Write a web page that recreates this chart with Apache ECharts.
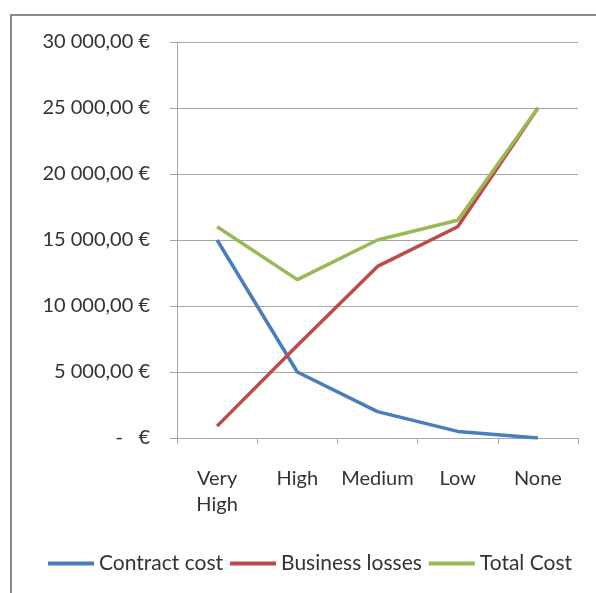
<!DOCTYPE html>
<html>
<head>
<meta charset="utf-8">
<script src="https://cdn.jsdelivr.net/npm/echarts@6/dist/echarts.min.js"></script>
<style>
  html, body { margin: 0; padding: 0; background: #fff; }
  #main { width: 596px; height: 593px; }
</style>
</head>
<body>
<div id="main"></div>
<script>
var categories = ['Very\nHigh', 'High', 'Medium', 'Low', 'None'];
var contractCost = [15000, 5000, 2000, 500, 0];
var businessLosses = [900, 7000, 13000, 16000, 25000];
var totalCost = [16000, 12000, 15000, 16500, 25000];
var seriesNames = ['Contract cost', 'Business losses', 'Total Cost'];

var chart = echarts.init(document.getElementById('main'));

function euro(v) {
    if (v === 0) return '-   €';
    var s = String(Math.round(v)).replace(/\B(?=(\d{3})+(?!\d))/g, ' ');
    return s + ',00 €';
}

var option = {
    animation: false,
    textStyle: { fontFamily: 'Lato' },
    graphic: [{
        type: 'rect',
        shape: { x: 11, y: 15, width: 620, height: 620 },
        style: { fill: 'none', stroke: '#8a8a8a', lineWidth: 2 }
    }],
    legend: {
        bottom: 14,
        left: 43,
        itemWidth: 46,
        itemHeight: 4,
        itemGap: 7,
        icon: 'rect',
        textStyle: { color: '#333', fontSize: 21 },
        data: seriesNames
    },
    grid: {
        left: 177,
        right: 18,
        top: 42,
        bottom: 155
    },
    xAxis: {
        type: 'category',
        data: categories,
        axisLine: { lineStyle: { color: '#a6a6a6', width: 1 } },
        axisTick: { show: true, length: 6, interval: 0, lineStyle: { color: '#a6a6a6' } },
        axisLabel: { color: '#333', fontSize: 20, margin: 28, lineHeight: 26, interval: 0 }
    },
    yAxis: {
        type: 'value',
        min: 0,
        max: 30000,
        interval: 5000,
        axisLine: { show: true, lineStyle: { color: '#a6a6a6' } },
        axisTick: { show: true, length: 7, inside: false, lineStyle: { color: '#a6a6a6' } },
        splitLine: { lineStyle: { color: '#a6a6a6' } },
        axisLabel: { color: '#333', fontSize: 20, margin: 27, formatter: euro }
    },
    series: [
        {
            name: seriesNames[0],
            type: 'line',
            data: contractCost,
            symbol: 'none',
            lineStyle: { width: 3.5, color: '#4a7ebb' },
            itemStyle: { color: '#4a7ebb' }
        },
        {
            name: seriesNames[1],
            type: 'line',
            data: businessLosses,
            symbol: 'none',
            lineStyle: { width: 3.5, color: '#be4b48' },
            itemStyle: { color: '#be4b48' }
        },
        {
            name: seriesNames[2],
            type: 'line',
            data: totalCost,
            symbol: 'none',
            lineStyle: { width: 3.5, color: '#98b954' },
            itemStyle: { color: '#98b954' }
        }
    ]
};

chart.setOption(option);
</script>
</body>
</html>
